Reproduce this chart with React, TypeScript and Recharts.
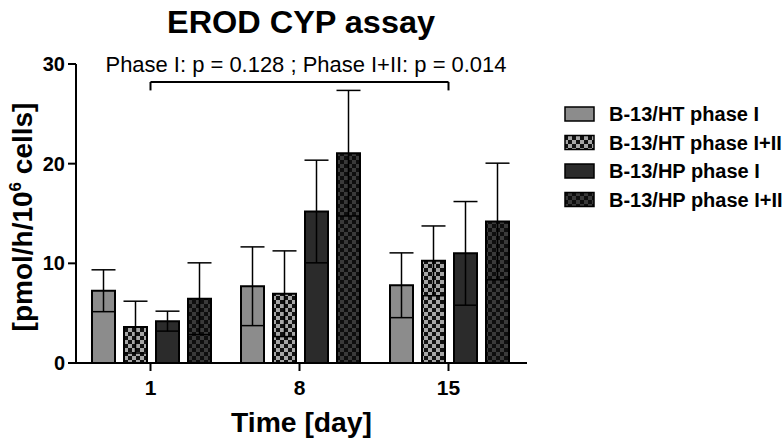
import { BarChart, Bar, XAxis, YAxis, ErrorBar, ReferenceLine } from 'recharts';

// Days and EROD activity (mean ± SD)
const days = ['1', '8', '15'];
const htPhaseI = [7.25, 7.7, 7.8];
const htPhaseIErr = [2.1, 3.95, 3.25];
const htPhaseI_II = [3.6, 6.95, 10.25];
const htPhaseI_IIErr = [2.6, 4.3, 3.5];
const hpPhaseI = [4.2, 15.2, 11.0];
const hpPhaseIErr = [1.0, 5.15, 5.2];
const hpPhaseI_II = [6.45, 21.05, 14.2];
const hpPhaseI_IIErr = [3.6, 6.3, 5.85];

const yTicks = [0, 10, 20, 30];
const bracketY = 28.2;
const bracketDrop = 27.35;
const pText = 'Phase I: p = 0.128 ; Phase I+II: p = 0.014';

const series = [
  { key: 'htI', name: 'B-13/HT phase I', fill: '#8c8c8c' },
  { key: 'htII', name: 'B-13/HT phase I+II', fill: 'url(#checkLight)' },
  { key: 'hpI', name: 'B-13/HP phase I', fill: '#2b2b2b' },
  { key: 'hpII', name: 'B-13/HP phase I+II', fill: 'url(#checkDark)' },
];

const data = days.map((d, i) => ({
  day: d,
  htI: htPhaseI[i],
  htIErr: htPhaseIErr[i],
  htII: htPhaseI_II[i],
  htIIErr: htPhaseI_IIErr[i],
  hpI: hpPhaseI[i],
  hpIErr: hpPhaseIErr[i],
  hpII: hpPhaseI_II[i],
  hpIIErr: hpPhaseI_IIErr[i],
}));

const FONT = '"Liberation Sans", Arial, sans-serif';
const tickStyle = { fill: '#000', fontSize: 20, fontWeight: 'bold', fontFamily: FONT };

export default function App() {
  return (
    <div style={{ position: 'absolute', left: 0, top: 0, background: '#fff', fontFamily: FONT }}>
      <BarChart
        width={783}
        height={442}
        data={data}
        margin={{ top: 64, right: 256, bottom: 0, left: 0 }}
        barCategoryGap={16}
        barGap={9}
      >
        <defs>
          <pattern id="checkLight" width="8" height="8" patternUnits="userSpaceOnUse">
            <rect width="8" height="8" fill="#111" />
            <rect width="4" height="4" fill="#a6a6a6" />
            <rect x="4" y="4" width="4" height="4" fill="#a6a6a6" />
          </pattern>
          <pattern id="checkDark" width="8" height="8" patternUnits="userSpaceOnUse">
            <rect width="8" height="8" fill="#0e0e0e" />
            <rect width="4" height="4" fill="#3a3a3a" />
            <rect x="4" y="4" width="4" height="4" fill="#3a3a3a" />
          </pattern>
        </defs>
        <XAxis
          dataKey="day"
          height={79}
          padding={{ left: 0, right: 4 }}
          tickSize={8}
          tickMargin={9}
          axisLine={{ stroke: '#000', strokeWidth: 2 }}
          tickLine={{ stroke: '#000', strokeWidth: 2 }}
          tick={{ ...tickStyle, fontSize: 21 }}
        />
        <YAxis
          width={76}
          domain={[0, 30]}
          ticks={yTicks}
          tickSize={8}
          tickMargin={3}
          axisLine={{ stroke: '#000', strokeWidth: 2 }}
          tickLine={{ stroke: '#000', strokeWidth: 2 }}
          tick={tickStyle}
        />
        {series.map((s) => (
          <Bar
            key={s.key}
            dataKey={s.key}
            name={s.name}
            fill={s.fill}
            stroke="#000"
            strokeWidth={2}
            isAnimationActive={false}
          >
            <ErrorBar dataKey={`${s.key}Err`} width={12} stroke="#000" strokeWidth={1.5} />
          </Bar>
        ))}
        <ReferenceLine
          segment={[{ x: '1', y: bracketY }, { x: '15', y: bracketY }]}
          stroke="#000"
          strokeWidth={2}
        />
        <ReferenceLine
          segment={[{ x: '1', y: bracketY }, { x: '1', y: bracketDrop }]}
          stroke="#000"
          strokeWidth={2}
        />
        <ReferenceLine
          segment={[{ x: '15', y: bracketY }, { x: '15', y: bracketDrop }]}
          stroke="#000"
          strokeWidth={2}
        />
        <text x={301} y={33} textAnchor="middle" fontSize={32} fontWeight="bold" fontFamily={FONT}
          textLength={268} lengthAdjust="spacingAndGlyphs">
          EROD CYP assay
        </text>
        <text x={306} y={71.5} textAnchor="middle" fontSize={22} fontFamily={FONT}
          textLength={401} lengthAdjust="spacingAndGlyphs">
          {pText}
        </text>
        <text x={301.5} y={432} textAnchor="middle" fontSize={28} fontWeight="bold" fontFamily={FONT}
          textLength={141} lengthAdjust="spacingAndGlyphs">
          Time [day]
        </text>
        <text
          x={0}
          y={0}
          transform="translate(32,217) rotate(-90)"
          textAnchor="middle"
          fontSize={28}
          fontWeight="bold"
          fontFamily={FONT}
        >
          [pmol/h/10
          <tspan fontSize={17} dy={-11}>6</tspan>
          <tspan dy={11}> cells]</tspan>
        </text>
        <g>
          {series.map((s, i) => {
            const cy = 114 + i * 28.5;
            return (
              <g key={s.key}>
                <rect x={565} y={cy - 7} width={29} height={14} fill={s.fill} stroke="#000" strokeWidth={1.5} />
                <text x={609} y={cy + 7} fontSize={20} fontWeight="bold" fontFamily={FONT}>
                  {s.name}
                </text>
              </g>
            );
          })}
        </g>
      </BarChart>
    </div>
  );
}
